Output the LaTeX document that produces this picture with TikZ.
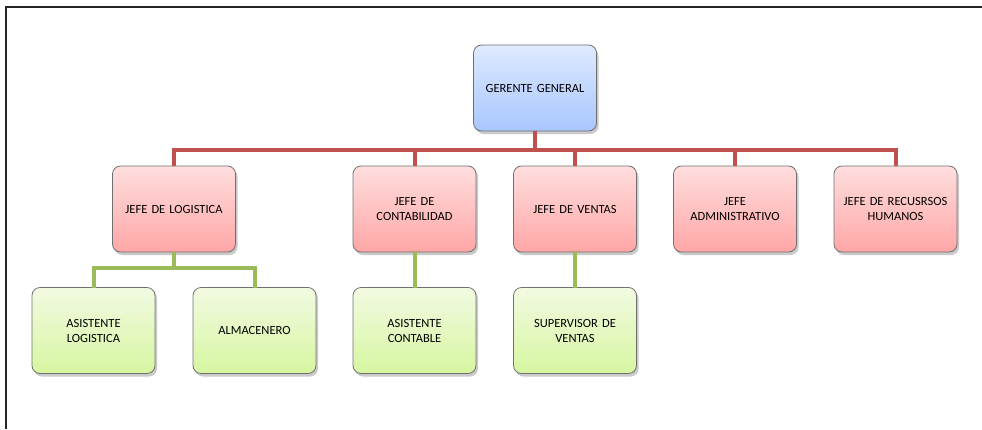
\documentclass[tikz,border=0pt]{standalone}
\usepackage{fontspec}
\setmainfont{Carlito}
\usetikzlibrary{shadows}
\definecolor{redln}{RGB}{192,80,77}
\definecolor{grnln}{RGB}{155,187,89}
\definecolor{bluetop}{RGB}{222,234,255}
\definecolor{bluebot}{RGB}{168,198,254}
\definecolor{redtop}{RGB}{255,222,222}
\definecolor{redbot}{RGB}{255,166,166}
\definecolor{grntop}{RGB}{242,250,226}
\definecolor{grnbot}{RGB}{214,246,160}
\definecolor{bordr}{RGB}{112,112,112}
\tikzset{
  orgbox/.style={draw=bordr, line width=0.8pt, rounded corners=8pt,
    minimum width=123pt, minimum height=86pt, inner sep=0pt, outer sep=0pt,
    align=center, font=\fontsize{12.5}{15}\selectfont, text width=118pt,
    drop shadow={shadow xshift=2pt, shadow yshift=-3pt, opacity=0.35, fill=black!60}},
  bluebox/.style={orgbox, top color=bluetop, bottom color=bluebot},
  redbox/.style={orgbox, top color=redtop, bottom color=redbot},
  greenbox/.style={orgbox, top color=grntop, bottom color=grnbot},
  redl/.style={draw=redln, line width=4pt},
  grnl/.style={draw=grnln, line width=4pt}
}
\begin{document}
\begin{tikzpicture}[x=1pt,y=-1pt]
\useasboundingbox (0,0) rectangle (982,429);
\draw[line width=2pt, black!85] (6,429) -- (6,7) -- (982,7);
% nodes
\node[bluebox] (g) at (535,88) {GERENTE GENERAL};
\node[redbox] (j1) at (174,209) {JEFE DE LOGISTICA};
\node[redbox] (j2) at (414.5,209) {JEFE DE\\CONTABILIDAD};
\node[redbox] (j3) at (575,209) {JEFE DE VENTAS};
\node[redbox] (j4) at (735,209) {JEFE\\ADMINISTRATIVO};
\node[redbox] (j5) at (895.5,209) {JEFE DE RECUSRSOS\\HUMANOS};
\node[greenbox] (a1) at (93.5,330.5) {ASISTENTE\\LOGISTICA};
\node[greenbox] (a2) at (254.5,330.5) {ALMACENERO};
\node[greenbox] (a3) at (414.5,330.5) {ASISTENTE\\CONTABLE};
\node[greenbox] (a4) at (575,330.5) {SUPERVISOR DE\\VENTAS};
% connectors
\coordinate (bus) at (535,150);
\coordinate (gbus) at (174,268);
\draw[redl] (g.south) -- (bus) -| (j1.north);
\draw[redl] (bus) -| (j2.north);
\draw[redl] (bus) -| (j3.north);
\draw[redl] (bus) -| (j4.north);
\draw[redl] (bus) -| (j5.north);
\draw[grnl] (j1.south) -- (gbus) -| (a1.north);
\draw[grnl] (gbus) -| (a2.north);
\draw[grnl] (j2.south) -- (a3.north);
\draw[grnl] (j3.south) -- (a4.north);
\end{tikzpicture}
\end{document}
